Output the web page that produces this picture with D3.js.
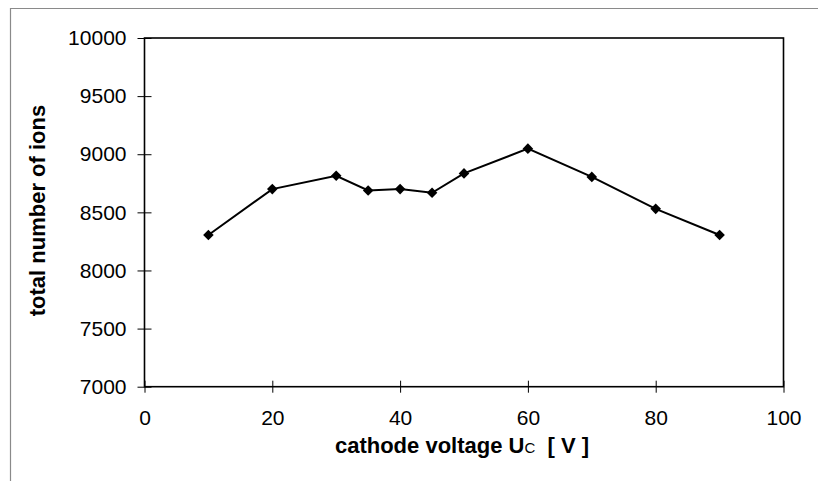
<!DOCTYPE html>
<html><head><meta charset="utf-8">
<script src="https://cdn.jsdelivr.net/npm/d3@7"></script>
<style>
html,body{margin:0;padding:0;background:#fff;}
svg{display:block;}
text{font-family:"Liberation Sans",Arial,sans-serif;fill:#000;}
</style></head>
<body><svg id="chart" width="818" height="481"></svg>
<script>
const voltage = [10, 20, 30, 35, 40, 45, 50, 60, 70, 80, 90];
const ions    = [8305, 8700, 8815, 8688, 8700, 8668, 8835, 9048, 8805, 8530, 8305];
const xTicks = [0, 20, 40, 60, 80, 100];
const yTicks = [7000, 7500, 8000, 8500, 9000, 9500, 10000];
const xTitle = "cathode voltage U";
const xTitleSub = "C";
const xTitleUnit = "[ V ]";
const yTitle = "total number of ions";

const svg = d3.select("#chart");
const pLeft = 144.5, pRight = 783.5, pTop = 38, pBottom = 386.7;

// outer frame (top & left edges visible)
svg.append("line").attr("x1",10).attr("x2",818).attr("y1",8.5).attr("y2",8.5)
  .attr("stroke","#8a8a8a").attr("stroke-width",1.2);
svg.append("line").attr("x1",10.5).attr("x2",10.5).attr("y1",8).attr("y2",481)
  .attr("stroke","#8a8a8a").attr("stroke-width",1.2);

const x = d3.scaleLinear().domain([0,100]).range([pLeft,pRight]);
const y = d3.scaleLinear().domain([7000,10000]).range([pBottom,pTop]);

// plot frame
svg.append("rect").attr("x",pLeft).attr("y",pTop).attr("width",pRight-pLeft).attr("height",pBottom-pTop)
  .attr("fill","none").attr("stroke","#000").attr("stroke-width",1.6);

const fs = 21;
const xAxis = svg.append("g").attr("transform",`translate(0,${pBottom})`)
  .call(d3.axisBottom(x).tickValues(xTicks).tickSize(6).tickSizeOuter(0).tickPadding(17));
const yAxis = svg.append("g").attr("transform",`translate(${pLeft},0)`)
  .call(d3.axisLeft(y).tickValues(yTicks).tickSize(7).tickSizeOuter(0).tickPadding(11).tickFormat(d3.format("d")));
[xAxis,yAxis].forEach(g=>{
  g.select(".domain").remove();
  g.selectAll("line").attr("stroke","#000").attr("stroke-width",1);
  g.selectAll("text").attr("font-size",fs).attr("font-family","'Liberation Sans',Arial,sans-serif").attr("fill","#000");
});
// inner half of crossing ticks
xAxis.selectAll(".tick").append("line").attr("y1",0).attr("y2",-6).attr("stroke","#000");
yAxis.selectAll(".tick").append("line").attr("x1",0).attr("x2",7).attr("stroke","#000");

// line
const line = d3.line().x((d,i)=>x(voltage[i])).y(d=>y(d));
svg.append("path").datum(ions).attr("d",line).attr("fill","none")
  .attr("stroke","#000").attr("stroke-width",2);

// markers
const sym = d3.symbol().type(d3.symbolSquare).size(56);
svg.selectAll(".pt").data(ions).enter().append("path")
  .attr("d",sym)
  .attr("transform",(d,i)=>`translate(${x(voltage[i])},${y(d)}) rotate(45)`)
  .attr("fill","#000");

// x title
const xt = svg.append("text").attr("x",(pLeft+pRight)/2 - 2).attr("y",453)
  .attr("text-anchor","middle").attr("font-size",22).attr("font-weight","bold");
xt.append("tspan").text(xTitle);
xt.append("tspan").attr("font-size",15).attr("font-weight","normal").text(xTitleSub);
xt.append("tspan").text("\u00a0\u00a0" + xTitleUnit);

// y title
svg.append("text").attr("transform",`translate(45,210.5) rotate(-90)`)
  .attr("text-anchor","middle").attr("font-size",22).attr("font-weight","bold").text(yTitle);
</script></body></html>
